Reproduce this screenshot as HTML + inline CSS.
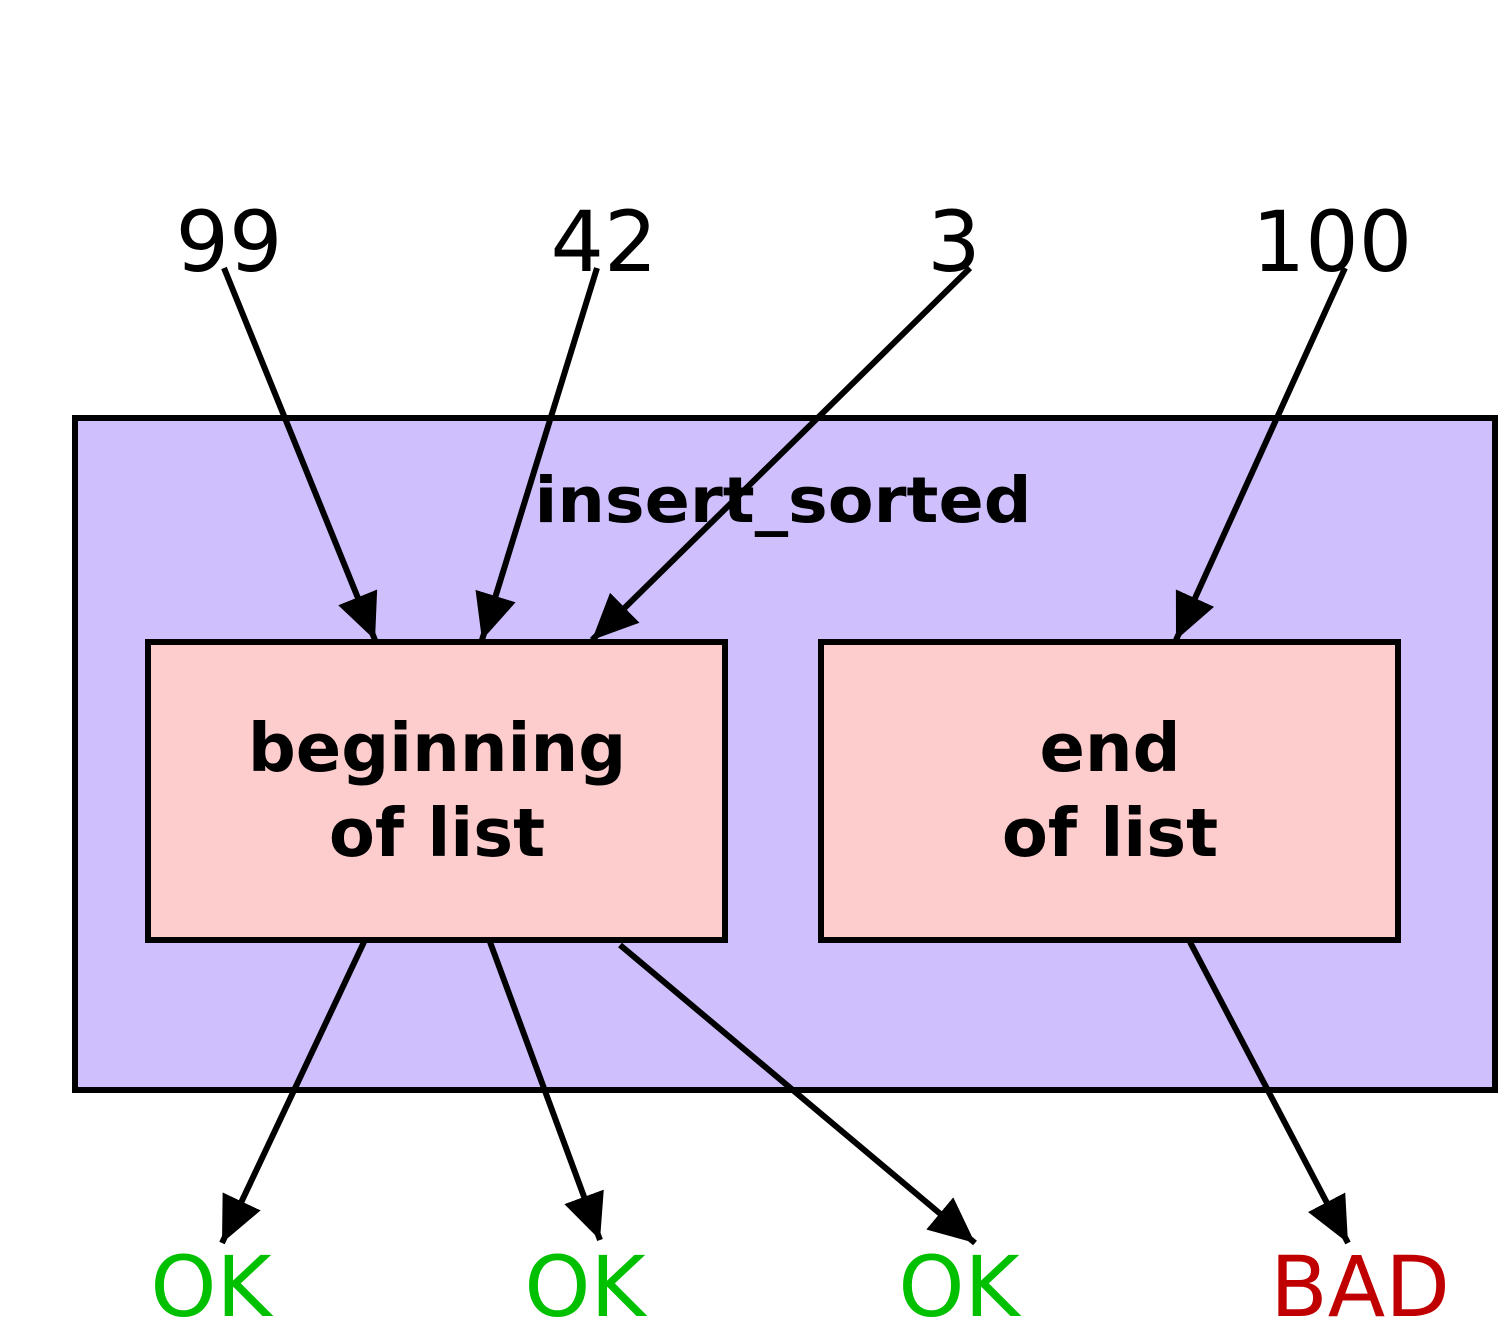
<!DOCTYPE html>
<html><head><meta charset="utf-8"><style>html,body{margin:0;padding:0;background:#fff}svg{display:block}</style></head>
<body>
<svg width="1500" height="1335" viewBox="0 0 1500 1335" xmlns="http://www.w3.org/2000/svg" font-family="'DejaVu Sans','Liberation Sans',sans-serif">
<defs>
<marker id="a" markerUnits="userSpaceOnUse" markerWidth="48" markerHeight="44" refX="46" refY="21" orient="auto">
<path d="M0,0 L46,21 L0,42 Z" fill="#000"/>
</marker>
</defs>
<rect x="75" y="418" width="1420" height="672" fill="#cfbffd" stroke="#000" stroke-width="6"/>
<text x="783" y="522" font-size="63" font-weight="bold" text-anchor="middle" textLength="497" lengthAdjust="spacingAndGlyphs">insert_sorted</text>
<rect x="148" y="642" width="577" height="298" fill="#fdcccc" stroke="#000" stroke-width="6"/>
<rect x="821" y="642" width="577" height="298" fill="#fdcccc" stroke="#000" stroke-width="6"/>
<g font-size="67" font-weight="bold" text-anchor="middle">
<text x="437" y="771">beginning</text><text x="437" y="856">of list</text>
<text x="1110" y="771">end</text><text x="1110" y="856">of list</text>
</g>
<g font-size="84" text-anchor="middle">
<text x="229" y="271">99</text><text x="604" y="271">42</text><text x="954" y="271">3</text><text x="1332" y="271">100</text>
<text x="211" y="1316" fill="#00c000">OK</text><text x="585" y="1316" fill="#00c000">OK</text><text x="959" y="1316" fill="#00c000">OK</text><text x="1360" y="1316" fill="#c00000">BAD</text>
</g>
<g stroke="#000" stroke-width="6" marker-end="url(#a)">
<line x1="224" y1="268" x2="375" y2="640"/>
<line x1="597" y1="268" x2="482" y2="640"/>
<line x1="970" y1="268" x2="592" y2="640"/>
<line x1="1345" y1="268" x2="1176" y2="640"/>
<line x1="364" y1="942" x2="222" y2="1243"/>
<line x1="490" y1="942" x2="600" y2="1240"/>
<line x1="620" y1="945" x2="975" y2="1243"/>
<line x1="1190" y1="942" x2="1348" y2="1243"/>
</g>
</svg>
</body></html>
